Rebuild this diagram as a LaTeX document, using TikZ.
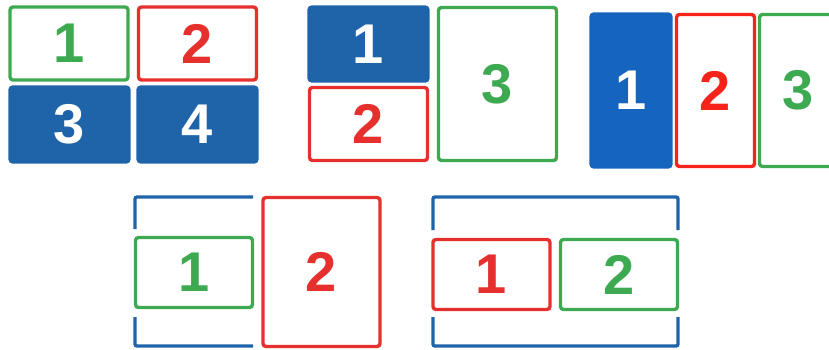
\documentclass[tikz,border=0pt]{standalone}
\usepackage{fontspec}
\setmainfont{Liberation Sans}
\definecolor{cgreen}{HTML}{3DAA52}
\definecolor{cred}{HTML}{E5302E}
\definecolor{cblue}{HTML}{1F64A8}
\definecolor{cblueb}{HTML}{1565BF}
\definecolor{credb}{HTML}{F5231A}
\tikzset{
  box/.style={draw, line width=3.4pt, rounded corners=3pt, inner sep=0pt,
    font=\fontsize{56}{56}\selectfont\bfseries},
  gbox/.style={box, draw=cgreen, text=cgreen, fill=white},
  rbox/.style={box, draw=cred, text=cred, fill=white},
  bbox/.style={box, draw=cblue, fill=cblue, text=white},
  bracket/.style={draw=cblue, line width=3.4pt, rounded corners=2pt},
}
\begin{document}
\begin{tikzpicture}[x=1pt,y=-1pt]
\useasboundingbox (0,0) rectangle (829,349);
\clip (0,0) rectangle (829,349);
% group 1
\node[gbox, minimum width=118, minimum height=73] (a1) at (69,43.5) {1};
\node[rbox, minimum width=118, minimum height=73] (a2) at (197.5,43.5) {2};
\node[bbox, minimum width=119, minimum height=75] (a3) at (69.5,124.5) {3};
\node[bbox, minimum width=119, minimum height=75] (a4) at (197.5,124.5) {4};
% group 2
\node[bbox, minimum width=119, minimum height=74] (b1) at (368.5,44) {1};
\node[rbox, minimum width=118, minimum height=73] (b2) at (368.5,124) {2};
\node[gbox, minimum width=118, minimum height=153] (b3) at (497.5,84) {3};
% group 3
\node[box, draw=cblueb, fill=cblueb, text=white, minimum width=80, minimum height=153] (c1) at (631,90.5) {1};
\node[box, draw=credb, text=credb, minimum width=78, minimum height=152] (c2) at (715.5,90.5) {2};
\node[gbox, minimum width=78, minimum height=152] (c3) at (798.5,90.5) {3};
% group 4
\draw[bracket] (135,229) -- (135,197) -- (253,197);
\draw[bracket] (135,317) -- (135,346) -- (253,346);
\node[gbox, minimum width=117, minimum height=70] (d1) at (194,272.5) {1};
\node[rbox, minimum width=117, minimum height=149] (d2) at (321.5,272) {2};
% group 5
\draw[bracket] (433,230) -- (433,197) -- (678,197) -- (678,230);
\draw[bracket] (433,317) -- (433,346) -- (678,346) -- (678,317);
\node[rbox, minimum width=117, minimum height=70] (e1) at (491.5,274.5) {1};
\node[gbox, minimum width=117, minimum height=70] (e2) at (619,274.5) {2};
\end{tikzpicture}
\end{document}
